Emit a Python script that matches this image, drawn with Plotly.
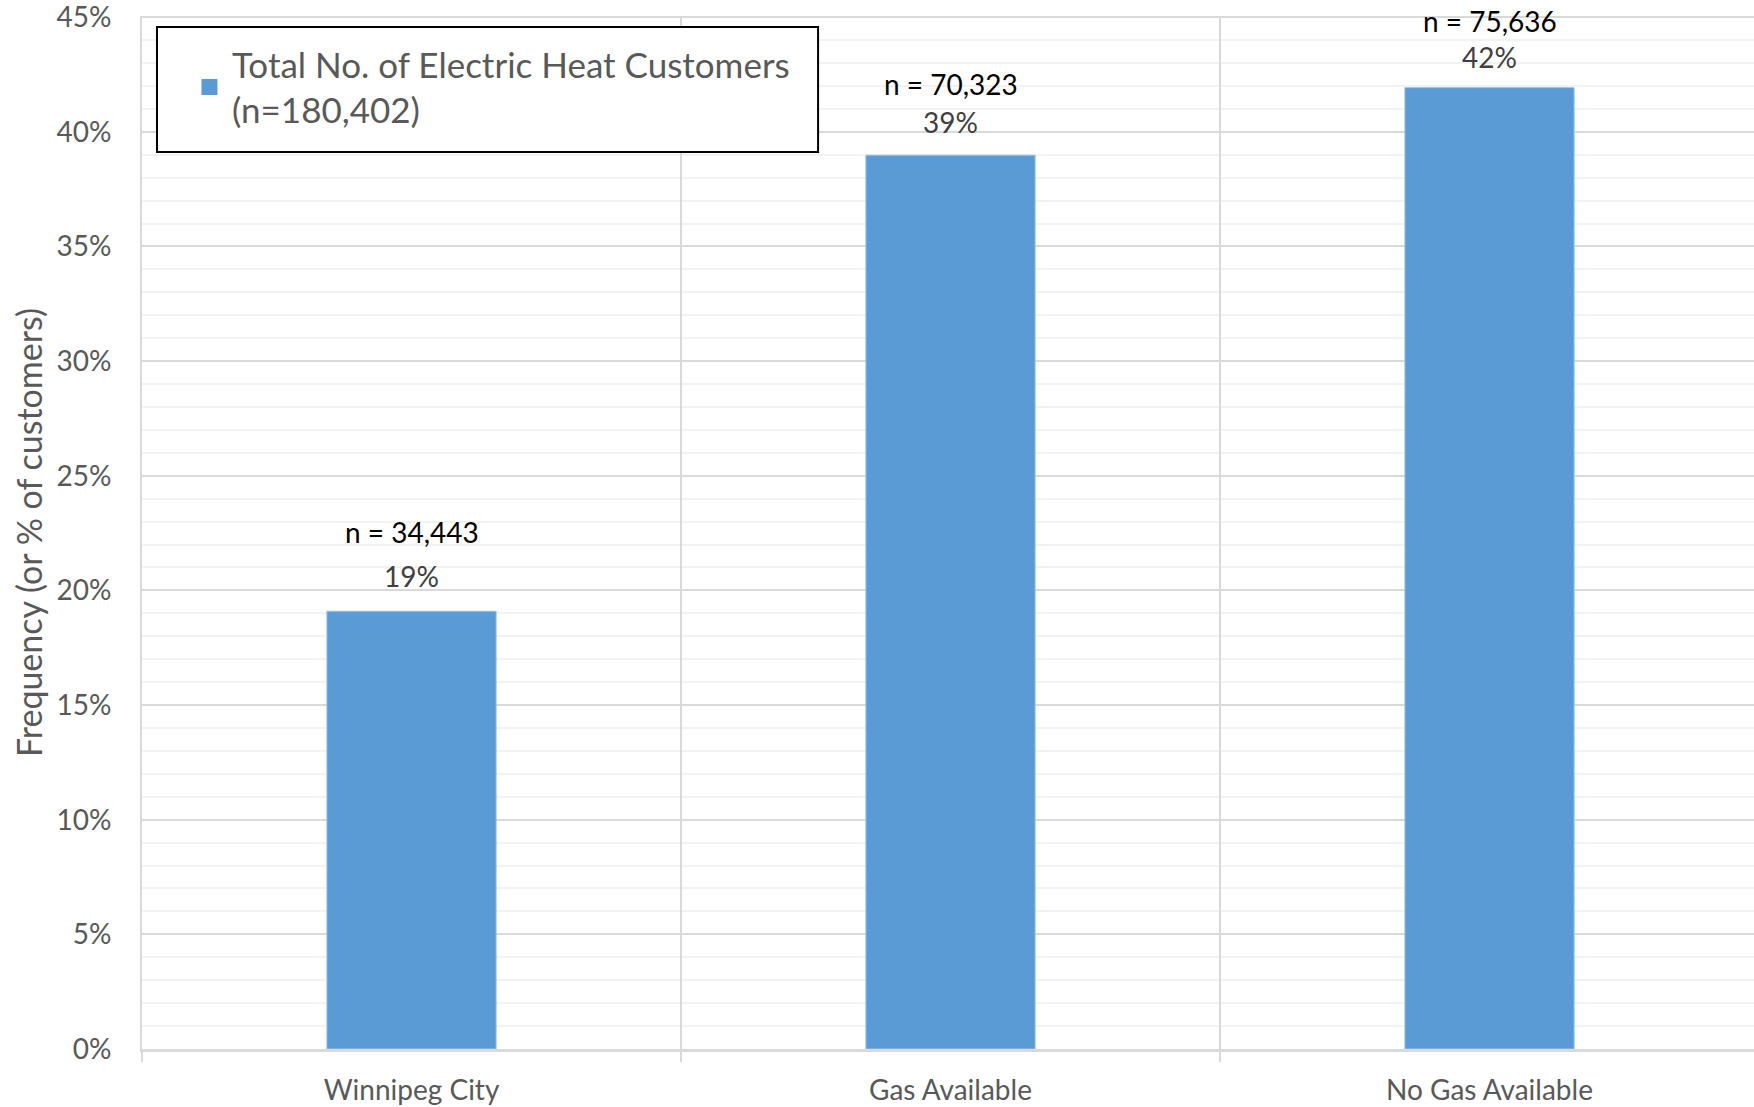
import plotly.graph_objects as go

# Electric heat customers by gas availability zone
categories = ["Winnipeg City", "Gas Available", "No Gas Available"]
customers = [34443, 70323, 75636]
total_customers = 180402
series_name = "Total No. of Electric Heat Customers<br>(n=180,402)"
y_tick_values = [0, 5, 10, 15, 20, 25, 30, 35, 40, 45]
y_tick_labels = [f"{v}%" for v in y_tick_values]

shares = [c / total_customers * 100 for c in customers]

BAR = "#5b9bd5"
TXT = "#595959"
FONT = "Lato"

# vertical offsets (px above the bar top) of the share and count labels
share_label_shift = [16, 14, 12]
count_label_shift = [60, 52, 48]

fig = go.Figure()
fig.add_trace(go.Bar(
    x=categories,
    y=shares,
    name=series_name,
    legendgroup="customers",
    width=0.314,
    marker=dict(color=BAR, line=dict(color="#9dc3e6", width=1)),
    showlegend=False,
))
# legend entry with a larger square swatch for the bar series
fig.add_trace(go.Scatter(
    x=[None], y=[None], mode="markers",
    name=series_name, legendgroup="customers",
    marker=dict(symbol="square", size=20, color=BAR),
    showlegend=True, hoverinfo="skip",
))

# two-line labels above each bar: share (grey) and count (black)
for i, (cat, share, n) in enumerate(zip(categories, shares, customers)):
    fig.add_annotation(x=cat, y=share, text=f"{share:.0f}%", showarrow=False,
                       yanchor="bottom", yshift=share_label_shift[i],
                       font=dict(family=FONT, size=28, color="#404040"))
    fig.add_annotation(x=cat, y=share, text=f"n = {n:,}", showarrow=False,
                       yanchor="bottom", yshift=count_label_shift[i],
                       font=dict(family=FONT, size=28, color="#000000"))

# framed, white-filled box behind the legend
fig.add_shape(type="rect", xref="paper", yref="paper",
              x0=0.0093, x1=0.4194, y0=0.8683, y1=0.9893,
              line=dict(color="#000000", width=2), fillcolor="white",
              layer="above")

fig.update_layout(
    width=1754, height=1107,
    margin=dict(l=142, r=0, t=16, b=58),
    paper_bgcolor="white", plot_bgcolor="white",
    font=dict(family=FONT, size=28, color=TXT),
    bargap=0.686,
    legend=dict(
        x=0.0279, y=0.9816, xanchor="left", yanchor="top",
        borderwidth=0, bgcolor="rgba(0,0,0,0)",
        font=dict(family=FONT, size=35, color=TXT),
        itemwidth=35,
    ),
)

fig.update_xaxes(
    type="category",
    categoryorder="array", categoryarray=categories,
    range=[-0.5, 2.4907],
    tickson="boundaries",
    ticks="outside", ticklen=10, tickwidth=2, tickcolor="#d9d9d9",
    showgrid=True, gridcolor="#d9d9d9", gridwidth=2,
    showline=True, linecolor="#d9d9d9", linewidth=3,
    tickfont=dict(family=FONT, size=28, color=TXT),
    ticklabelstandoff=14,
)

fig.update_yaxes(
    range=[0, 45.05],
    tickmode="array", tickvals=y_tick_values, ticktext=y_tick_labels,
    ticklabeloverflow="allow",
    showgrid=True, gridcolor="#d9d9d9", gridwidth=2,
    minor=dict(dtick=1, showgrid=True, gridcolor="#f2f2f2", gridwidth=2),
    showline=True, linecolor="#d9d9d9", linewidth=2,
    zeroline=False,
    tickfont=dict(family=FONT, size=28, color=TXT),
    ticklabelstandoff=23,
    title=dict(text="Frequency (or % of customers)",
               font=dict(family=FONT, size=34, color=TXT), standoff=4),
)

fig.write_html("out.html")
